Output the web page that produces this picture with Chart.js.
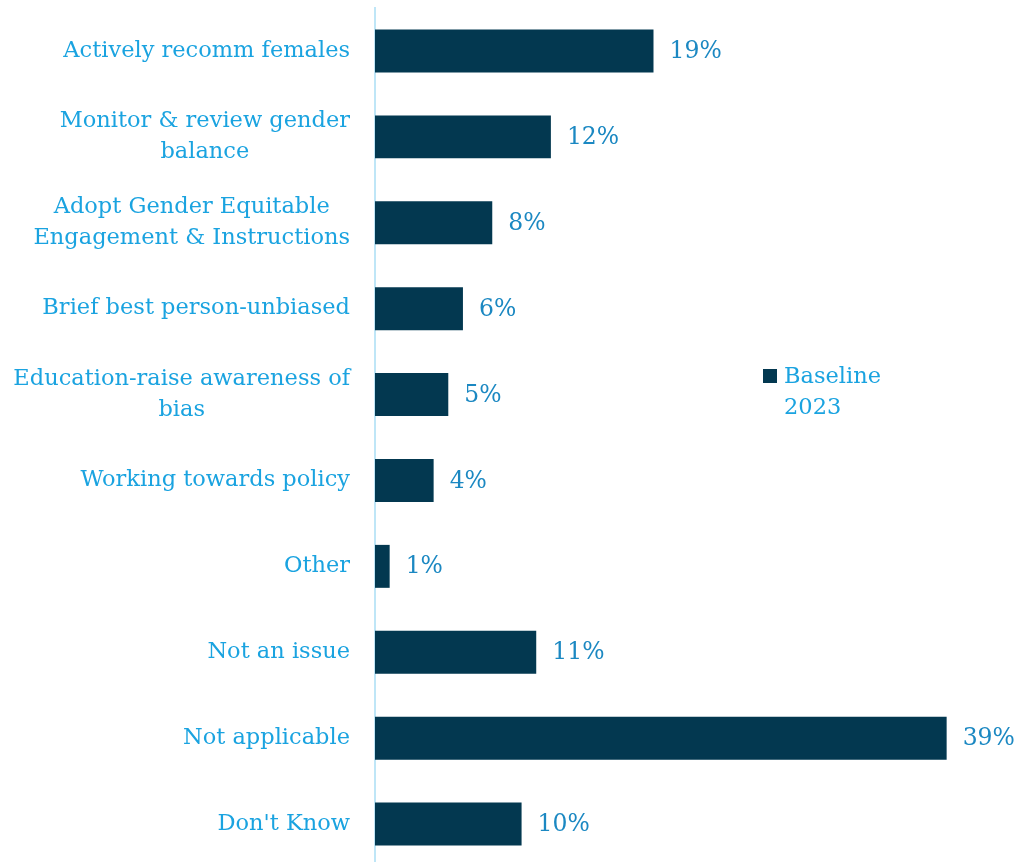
<!DOCTYPE html>
<html lang="en">
<head>
  <meta charset="UTF-8">
  <title>Baseline 2023</title>
  <script src="https://cdn.jsdelivr.net/npm/chart.js"></script>
  <style>
    html, body { margin: 0; padding: 0; background: #fff; overflow: hidden; }
    #wrap { position: relative; width: 1017px; height: 867px; }
    #legend { position: absolute; left: 763px; top: 360px; font-family: "DejaVu Serif", serif;
      font-size: 22.5px; line-height: 31px; color: #1aa3e0; display: flex; }
    #legend .box { width: 14px; height: 14px; background: #033850; margin: 9px 7px 0 0; }
  </style>
</head>
<body>
  <div id="wrap">
    <canvas id="chart"></canvas>
    <div id="legend"></div>
  </div>

  <script>
    // categories (top to bottom), multi-line labels as arrays
    const categories = [
      ['Actively recomm females'],
      ['Monitor & review gender', 'balance'],
      ['Adopt Gender Equitable', 'Engagement & Instructions'],
      ['Brief best person-unbiased'],
      ['Education-raise awareness of', 'bias'],
      ['Working towards policy'],
      ['Other'],
      ['Not an issue'],
      ['Not applicable'],
      ["Don't Know"]
    ];
    const seriesName = 'Baseline 2023';
    const values = [19, 12, 8, 6, 5, 4, 1, 11, 39, 10];

    const barColor = '#033850';
    const labelColor = '#1aa3e0';
    const valueColor = '#1b88c2';
    const fontFamily = '"DejaVu Serif", serif';

    const valueLabels = {
      id: 'valueLabels',
      afterDatasetsDraw(chart) {
        const ctx = chart.ctx;
        ctx.save();
        ctx.font = '23.5px ' + fontFamily;
        ctx.fillStyle = valueColor;
        ctx.textAlign = 'left';
        ctx.textBaseline = 'middle';
        chart.getDatasetMeta(0).data.forEach((bar, i) => {
          ctx.fillText(values[i] + '%', bar.x + 16, bar.y + 1);
        });
        ctx.restore();
      }
    };

    // y labels: block right-aligned, lines centred inside the block
    const categoryLabels = {
      id: 'categoryLabels',
      afterDraw(chart) {
        const ctx = chart.ctx;
        const yScale = chart.scales.y;
        const right = yScale.right - 25;
        const lh = 31;
        ctx.save();
        ctx.font = '22.5px ' + fontFamily;
        ctx.fillStyle = labelColor;
        ctx.textAlign = 'center';
        ctx.textBaseline = 'middle';
        categories.forEach((lines, i) => {
          const y = yScale.getPixelForValue(i);
          const w = Math.max(...lines.map(l => ctx.measureText(l).width));
          const cx = right - w / 2;
          lines.forEach((line, j) => {
            ctx.fillText(line, cx, y + (j - (lines.length - 1) / 2) * lh);
          });
        });
        ctx.restore();
      }
    };

    new Chart(document.getElementById('chart'), {
      type: 'bar',
      data: {
        labels: categories,
        datasets: [{
          label: seriesName,
          data: values,
          backgroundColor: barColor,
          borderWidth: 0,
          categoryPercentage: 0.5,
          barPercentage: 1
        }]
      },
      options: {
        indexAxis: 'y',
        responsive: true,
        maintainAspectRatio: false,
        animation: false,
        layout: { padding: { top: 8, right: 0, bottom: 0, left: 0 } },
        plugins: {
          legend: { display: false },
          tooltip: { enabled: false }
        },
        scales: {
          x: { display: false, min: 0, max: 43.8 },
          y: {
            grid: { display: false },
            border: { display: true, color: '#bfe6f7', width: 2 },
            ticks: { display: false },
            afterFit(scale) { scale.width = 375; }
          }
        }
      },
      plugins: [valueLabels, categoryLabels]
    });

    const legend = document.getElementById('legend');
    const parts = seriesName.split(' ');
    legend.innerHTML = '<div class="box"></div><div>' + parts[0] + '<br>' + parts[1] + '</div>';
  </script>
</body>
</html>
